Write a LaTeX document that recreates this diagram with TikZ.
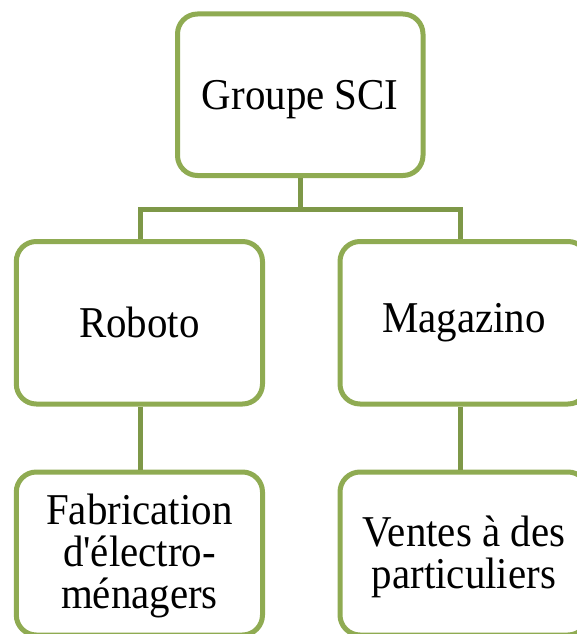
\documentclass[tikz,border=0pt]{standalone}
\usepackage{fontspec}
\setmainfont{Liberation Serif}[FakeStretch=0.93, Ligatures=TeXOff]
\definecolor{boxgreen}{RGB}{143,171,82}
\definecolor{linegreen}{RGB}{126,152,72}
\tikzset{
  orgbox/.style={draw=boxgreen, line width=5pt, rounded corners=20pt, fill=white,
    rectangle, inner sep=0pt, align=center, text=black,
    font=\fontsize{44}{42}\selectfont},
  conn/.style={draw=linegreen, line width=5pt, line join=miter}
}
\begin{document}
\begin{tikzpicture}[x=1pt,y=-1pt]
\useasboundingbox (0,0) rectangle (576,634);
\coordinate (jl) at (140,209);
\coordinate (jr) at (460.5,209);
\node[orgbox, minimum width=245.5pt, minimum height=161.5pt] (top) at (300.25,94.75) {\raisebox{-5pt}[\height][\depth]{Groupe SCI}};
\node[orgbox, minimum width=246.2pt, minimum height=162.5pt] (ml) at (139.4,322.75) {Roboto};
\node[orgbox, minimum width=248pt, minimum height=162.5pt] (mr) at (464,322.75) {Magazino};
\node[orgbox, minimum width=246.2pt, minimum height=163pt] (bl) at (139.4,553.5) {\raisebox{-2pt}[\height][\depth]{Fabrication}\\\raisebox{-2pt}[\height][\depth]{d'électro-}\\\raisebox{-2pt}[\height][\depth]{ménagers}};
\node[orgbox, minimum width=248pt, minimum height=163pt] (br) at (464,553.5) {\raisebox{-3pt}[\height][\depth]{Ventes à des}\\\raisebox{-3pt}[\height][\depth]{particuliers}};
\draw[conn] (top.south) -- (top.south |- jl);
\draw[conn] (jl |- ml.north) -- (jl) -- (jr) -- (jr |- mr.north);
\draw[conn] (jl |- ml.south) -- (jl |- bl.north);
\draw[conn] (jr |- mr.south) -- (jr |- br.north);
\end{tikzpicture}
\end{document}
